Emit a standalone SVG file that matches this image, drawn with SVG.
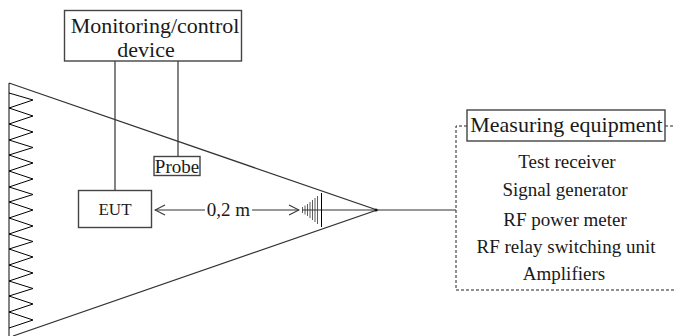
<svg xmlns="http://www.w3.org/2000/svg" width="674" height="336" viewBox="0 0 674 336">
<defs>
<style>
text{font-family:"Liberation Serif","Times New Roman",serif;fill:#1a1a1a;text-anchor:middle}
.l{fill:none;stroke:#333;stroke-width:1.2}
.t{fill:none;stroke:#000;stroke-width:1}
.a{fill:none;stroke:#333;stroke-width:.8}
.d{fill:none;stroke:#222;stroke-width:1;stroke-dasharray:3 2}
.b{fill:#fff;stroke:#444;stroke-width:1.4}
.lg{font-size:22px}
.md{font-size:19px}
</style>
<marker id="a" markerWidth="12" markerHeight="12" refX="11" refY="6" orient="auto-start-reverse" markerUnits="userSpaceOnUse"><path d="M1 1L11 6L1 11" fill="none" stroke="#333" stroke-width="1.1"/></marker>
</defs>
<rect width="674" height="336" fill="#fff"/>
<g id="connectors">
<path class="l" d="M9 83L377 210L13 336M9 83V336"/>
<path class="t" d="M9 93L33 100L9 108L33 116L9 124L33 132L9 140L33 147.500L9 155L33 163L9 171L33 179L9 187L33 194.500L9 202L33 210L9 218L33 226L9 234L33 241.500L9 249L33 257L9 265L33 273L9 281L33 288.500L9 296L33 304L9 312L33 320L9 328"/>
<path class="l" d="M115 61V191M178 61V156"/>
<path class="l" d="M377 210H456"/>
<path class="l" marker-start="url(#a)" d="M155 210H205"/>
<path class="l" marker-end="url(#a)" d="M252 210H299"/>
<path class="d" d="M467 126H456V290H674M665 126H674"/>
<g id="antenna">
<path class="l" d="M302 210H377"/>
<path class="a" d="M302.500 207V213M305 205.500V214.500M307.500 204V216M310 202V218M312.500 200V220M315 198V222M317.500 196V224"/>
<path class="t" d="M321.500 193V227"/>
</g>
<circle cx="376" cy="210" r="1.500" fill="#111"/>
</g>
<g id="monitoring">
<rect class="b" x="64.500" y="10.500" width="177" height="50.500"/>
<text class="lg" x="155" y="33">Monitoring/control</text>
<text class="lg" x="146" y="57">device</text>
</g>
<g id="probe">
<rect class="b" x="154" y="156.500" width="46" height="19"/>
<text class="md" x="177" y="173">Probe</text>
</g>
<g id="eut">
<rect class="b" x="78.500" y="190.500" width="73" height="37"/>
<text font-size="17" x="115" y="214.500">EUT</text>
</g>
<g id="distance">
<text class="md" x="228.500" y="216">0,2 m</text>
</g>
<g id="measuring">
<rect class="b" x="467" y="110" width="198" height="31"/>
<text class="lg" x="566.500" y="132">Measuring equipment</text>
<text class="md" x="567" y="168">Test receiver</text>
<text class="md" x="565" y="196">Signal generator</text>
<text class="md" x="565" y="226">RF power meter</text>
<text class="md" x="566" y="253">RF relay switching unit</text>
<text class="md" x="564" y="280">Amplifiers</text>
</g>
</svg>
